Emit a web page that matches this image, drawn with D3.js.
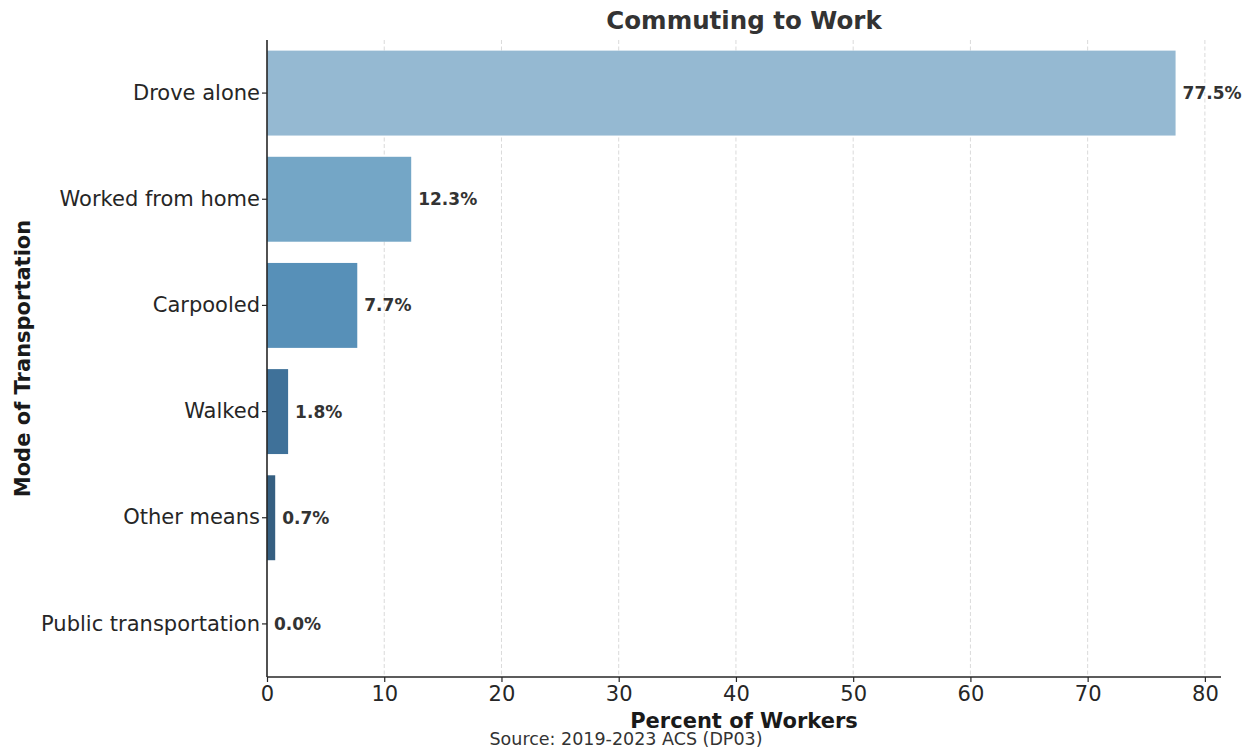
<!DOCTYPE html>
<html>
<head>
<meta charset="utf-8">
<script src="https://cdn.jsdelivr.net/npm/d3@7"></script>
<style>
  body { margin:0; background:#fff; }
  text { font-family: "DejaVu Sans", sans-serif; }
</style>
</head>
<body>
<div id="chart"></div>
<script>
var modes = ["Drove alone", "Worked from home", "Carpooled", "Walked", "Other means", "Public transportation"];
var percents = [77.5, 12.3, 7.7, 1.8, 0.7, 0.0];
var barColors = ["#95b9d2", "#74a6c6", "#5790b8", "#3f7199", "#355f81", "#2d4f6a"];
var xTicks = [0, 10, 20, 30, 40, 50, 60, 70, 80];

var width = 1250, height = 749;
var margin = {top:40, right:29, bottom:72, left:267};
var plotWidth = width - margin.left - margin.right;
var plotHeight = height - margin.top - margin.bottom;

var svg = d3.select('#chart').append('svg')
    .attr('width', width).attr('height', height);
var plotArea = svg.append('g')
    .attr("transform", "translate(" + margin.left + "," + margin.top + ")");

var xs = d3.scaleLinear().domain([0, 77.5 * 1.05]).range([0, plotWidth]);
var ys = d3.scaleBand().domain(modes).range([0, plotHeight])
    .paddingInner(0.2).paddingOuter(0.1);

// grid
plotArea.selectAll('line.grid')
    .data(xTicks.filter(function(t){ return t > 0; }))
    .enter().append('line')
    .attr('class', 'grid')
    .attr('x1', function(d){ return xs(d); })
    .attr('x2', function(d){ return xs(d); })
    .attr('y1', 0).attr('y2', plotHeight)
    .attr('stroke', '#dadada').attr('stroke-width', 1)
    .attr('stroke-dasharray', '4,2.5');

plotArea.selectAll('rect')
    .data(modes)
    .enter().append('rect')
    .attr('x', 0)
    .attr('y', function(d){ return ys(d); })
    .attr('width', function(d, i){ return xs(percents[i]); })
    .attr('height', ys.bandwidth())
    .attr('fill', function(d, i){ return barColors[i]; });

plotArea.selectAll('text.val')
    .data(modes)
    .enter().append('text')
    .attr('class', 'val')
    .attr('x', function(d, i){ return xs(percents[i]) + 7; })
    .attr('y', function(d){ return ys(d) + ys.bandwidth() / 2; })
    .attr('dy', '0.35em')
    .attr('font-size', 17).attr('font-weight', 'bold')
    .attr('fill', '#333')
    .text(function(d, i){ return percents[i].toFixed(1) + '%'; });

// axes
var xAxis = plotArea.append('g')
    .attr("transform", "translate(0," + plotHeight + ")")
    .call(d3.axisBottom(xs).tickValues(xTicks).tickSizeOuter(0).tickSize(5).tickPadding(4));
var yAxis = plotArea.append('g')
    .call(d3.axisLeft(ys).tickSizeOuter(0).tickSize(5).tickPadding(2));

[xAxis, yAxis].forEach(function(a){
    a.select('.domain').attr('stroke', '#262626').attr('stroke-width', 1.6);
    a.selectAll('.tick line').attr('stroke', '#262626').attr('stroke-width', 1.2);
    a.selectAll('.tick text').attr('fill', '#262626').attr('font-size', 21)
        .attr('font-family', '"DejaVu Sans", sans-serif');
});
yAxis.select('.domain').attr('d', 'M0,0V' + plotHeight);
xAxis.select('.domain').attr('d', 'M0,0H' + plotWidth);

// titles
svg.append('text')
    .attr('x', margin.left + plotWidth / 2).attr('y', 29)
    .attr('text-anchor', 'middle')
    .attr('font-size', 24.5).attr('font-weight', 'bold').attr('fill', '#333')
    .text('Commuting to Work');

svg.append('text')
    .attr('x', margin.left + plotWidth / 2).attr('y', 728)
    .attr('text-anchor', 'middle')
    .attr('font-size', 21).attr('font-weight', 'bold').attr('fill', '#1a1a1a')
    .text('Percent of Workers');

svg.append('text')
    .attr('transform', 'translate(30,' + (margin.top + plotHeight / 2) + ') rotate(-90)')
    .attr('text-anchor', 'middle')
    .attr('font-size', 21).attr('font-weight', 'bold').attr('fill', '#1a1a1a')
    .text('Mode of Transportation');

svg.append('text')
    .attr('x', 626).attr('y', 745)
    .attr('text-anchor', 'middle')
    .attr('font-size', 17.5).attr('fill', '#333')
    .text('Source: 2019-2023 ACS (DP03)');
</script>
</body>
</html>
